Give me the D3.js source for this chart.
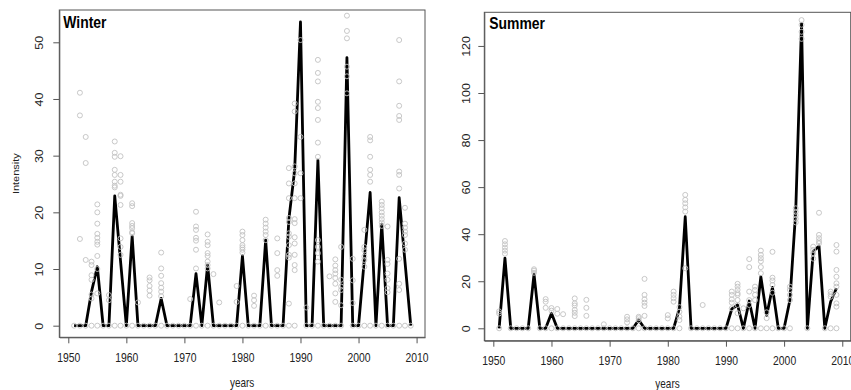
<!DOCTYPE html>
<html>
<head>
<meta charset="utf-8">
<script src="https://cdn.jsdelivr.net/npm/d3@7/dist/d3.min.js"></script>
<style>
    body { margin: 0; background: #fff; }
    svg { display: block; font-family: "Liberation Sans", Arial, Helvetica, sans-serif; }
</style>
</head>
<body>
<div id="chart"></div>
<script>
var years = [1951, 1952, 1953, 1954, 1955, 1956, 1957, 1958, 1959, 1960,
    1961, 1962, 1963, 1964, 1965, 1966, 1967, 1968, 1969, 1970,
    1971, 1972, 1973, 1974, 1975, 1976, 1977, 1978, 1979, 1980,
    1981, 1982, 1983, 1984, 1985, 1986, 1987, 1988, 1989, 1990,
    1991, 1992, 1993, 1994, 1995, 1996, 1997, 1998, 1999, 2000,
    2001, 2002, 2003, 2004, 2005, 2006, 2007, 2008, 2009];

var xTicks = [1950, 1960, 1970, 1980, 1990, 2000, 2010];
var winterTicks = [0, 10, 20, 30, 40, 50];
var summerTicks = [0, 20, 40, 60, 80, 100, 120];

// median line, one value per year
var winterLine = [0, 0, 0, 6, 10.4, 0, 0, 22.9, 11.4, 0,
    15.8, 0, 0, 0, 0, 4.8, 0, 0, 0, 0,
    0, 9.2, 0, 10.7, 0, 0, 0, 0, 0, 12.3,
    0, 0, 0, 15.1, 0, 0, 0, 18.8, 27.5, 53.6,
    0, 0, 29.2, 0, 0, 0, 0, 47.3, 0, 0,
    11.7, 23.5, 0, 17.9, 0, 0, 22.6, 11.3, 0];

var summerLine = [0, 29.8, 0, 0, 0, 0, 23, 0, 0, 6.4,
    0, 0, 0, 0, 0, 0, 0, 0, 0, 0,
    0, 0, 0, 0, 3.5, 0, 0, 0, 0, 0,
    0, 8.5, 47.4, 0, 0, 0, 0, 0, 0, 0,
    8.2, 9.9, 0, 11.6, 0, 21.9, 5.5, 17.4, 0, 0,
    12, 50, 129.6, 0, 32.6, 35, 0, 11.3, 17];

// the grey circles (non-zero members), per year
var winterSpread = [
    [1952, [41.1, 37.1, 15.3]],
    [1953, [33.3, 28.7, 11.6]],
    [1954, [11.3, 10.7, 8.9, 8.1, 5.5, 4.8]],
    [1955, [21.4, 20, 18, 16.2, 15.5, 14.8, 14.3, 12.3, 10, 5.7]],
    [1957, [5.4, 4.5]],
    [1958, [32.5, 30.5, 29.8, 27.5, 26.6, 25.4, 24.7, 24.4]],
    [1959, [29.9, 26.6, 25.4, 23.1, 22.9, 21.3, 15.4, 13.9, 12.5]],
    [1961, [21.6, 21.1, 18.1, 17.6, 17.2, 16.5, 16.3]],
    [1962, [4.1]],
    [1964, [8.5, 8, 7, 6.2, 5.3]],
    [1966, [12.9, 10.1, 8.8, 7.5, 6.7, 6, 5.2]],
    [1971, [4.7]],
    [1972, [20.1, 17.5, 16.9, 15.5, 15, 13.4, 10.1]],
    [1974, [16.1, 14.8, 14.2, 12.8, 12.3, 11.3, 10.7, 10.1]],
    [1975, [9.1]],
    [1976, [4.1]],
    [1979, [7, 4.2]],
    [1980, [16.6, 16, 15.1, 14.2, 13.8, 13.4, 12.9]],
    [1982, [5.3, 4.5, 3.5]],
    [1984, [18.7, 18, 17.3, 16.6, 16, 15.1]],
    [1986, [15.4, 12.8, 9.8, 8.8]],
    [1988, [27.8, 25.1, 22.5, 19, 18.3, 16.3, 15.7, 14.2, 12.5, 12, 3.9]],
    [1989, [39.2, 37.8, 28.1, 26.9, 25.1, 22.5, 18.8, 18.1, 15.6, 14.5, 12.5, 10.7, 9.8]],
    [1990, [50.4, 33.3, 26.9, 22.5]],
    [1991, [3.2]],
    [1993, [46.9, 44.6, 43.1, 39.5, 38.4, 36.3, 32.3, 29.8, 15.1, 13.9, 12.8, 11.3]],
    [1995, [8.7]],
    [1996, [11.7, 10.6, 9.8, 9.2, 8.4, 7.4, 5.7, 4.2]],
    [1997, [13.9, 8.1, 6.9, 6.3, 3.6]],
    [1998, [54.7, 52, 50.7, 45.7, 44, 41]],
    [1999, [11.8, 8, 4]],
    [2001, [16.9, 13.9, 13.3, 12.2, 11.6, 10.4]],
    [2002, [33.3, 32.7, 29.8, 27.5, 26.6, 25.4]],
    [2004, [21.9, 21.3, 20.7, 20, 19.4, 18.8, 18.2, 17.6]],
    [2005, [17.5, 11.6, 10.9, 9.2, 8.1, 6.6, 5.9]],
    [2007, [50.4, 43.1, 38.8, 37, 36.3, 27.2, 26.6, 24.2, 11.8, 7.4, 6.3]],
    [2008, [20.8, 18, 17.3, 16.6, 16, 14.5, 13.4]]
];

var summerSpread = [
    [1951, [7.2, 6.3]],
    [1952, [37.1, 35.7, 34.3, 33, 31.7]],
    [1957, [25.1, 24.5, 23.6]],
    [1959, [12.4, 11.3, 8.7]],
    [1960, [8.6, 7.5]],
    [1961, [8.2, 6.2]],
    [1962, [6]],
    [1964, [12.7, 10.6, 9.7, 7.8, 6.6, 5.2]],
    [1966, [12.1, 8.7, 5.3]],
    [1969, [1.7]],
    [1973, [4.9, 3.8, 2.5]],
    [1975, [4.9, 4.3, 3.4]],
    [1976, [21, 14.2, 12.3, 10.9, 9.5, 5.3]],
    [1980, [5.6, 4.2]],
    [1981, [15.6, 14.2, 12.8, 11.3]],
    [1982, [9, 7, 5, 3.5]],
    [1983, [56.7, 54.6, 53.1, 51.4, 49.6, 25.5]],
    [1986, [9.9]],
    [1991, [15.6, 14.2, 12.3, 10.9, 8.5]],
    [1992, [18.9, 17.7, 16.3, 14.9, 14.2, 12, 9.9, 6.4]],
    [1993, [8.5]],
    [1994, [29.4, 26, 15.6, 12, 9.9]],
    [1995, [17.7, 16.3, 14.2, 12]],
    [1996, [33, 31.2, 29.8, 28.5, 26, 23.4]],
    [1997, [6.8, 4.3]],
    [1998, [32.5, 21.5, 20.3, 18.4, 15.1]],
    [2001, [17.7, 16.3, 14.2, 12]],
    [2002, [51, 49.5, 48, 46.5, 45]],
    [2003, [131, 129, 126, 123]],
    [2005, [34.7, 33.3, 31.9, 29.6]],
    [2006, [49.1, 39.7, 38.3, 37, 36.1]],
    [2008, [15.6, 14.5, 13.4]],
    [2009, [35.4, 32.6, 24.8, 21.9, 19.1, 17.7, 14.2, 10.6, 9.2]]
];

// years with no member at zero
var winterNoZero = [1990, 1998];
var summerNoZero = [1952, 1957, 1983, 2002, 2003, 2005, 2006];

var width = 851, height = 390;
var squeeze = 0.83; // the original picture is a bit narrower than tall

var svg = d3.select("#chart").append("svg")
    .attr("width", width)
    .attr("height", height);

function drawPanel(cfg) {
    var x = d3.scaleLinear().domain([1948.45, 2011.45]).range([cfg.left, cfg.right]);
    var y = d3.scaleLinear().domain(cfg.yDomain).range([cfg.bottom, cfg.top]);
    var g = svg.append("g");

    // box
    g.append("rect")
        .attr("x", cfg.left)
        .attr("y", cfg.top)
        .attr("width", cfg.right - cfg.left)
        .attr("height", cfg.bottom - cfg.top)
        .attr("fill", "none")
        .attr("stroke", "#555")
        .attr("stroke-width", 1);

    // x axis
    var xAxis = g.append("g")
        .attr("transform", "translate(0," + cfg.bottom + ")")
        .call(d3.axisBottom(x).tickValues(xTicks).tickFormat(d3.format("d")).tickSize(6).tickSizeOuter(0));
    xAxis.select(".domain").attr("stroke", "#555");
    xAxis.selectAll(".tick line").attr("stroke", "#555");
    xAxis.selectAll(".tick text")
        .attr("y", cfg.xLabelY - cfg.bottom)
        .attr("dy", 0)
        .attr("transform", "scale(" + squeeze + ",1)")
        .attr("font-size", 12.5)
        .attr("font-family", "Liberation Sans, Arial, sans-serif")
        .attr("fill", "#222");

    // y axis, labels parallel to the axis
    var yAxis = g.append("g")
        .attr("transform", "translate(" + cfg.left + ",0)")
        .call(d3.axisLeft(y).tickValues(cfg.yTicks).tickSize(6).tickSizeOuter(0));
    yAxis.select(".domain").attr("stroke", "#555");
    yAxis.selectAll(".tick line").attr("stroke", "#555");
    yAxis.selectAll(".tick text")
        .attr("x", 0)
        .attr("dy", 0)
        .attr("text-anchor", "middle")
        .attr("transform", "translate(" + (cfg.yLabelX - cfg.left) + ",0) rotate(-90) scale(1," + squeeze + ")")
        .attr("font-size", 12.5)
        .attr("font-family", "Liberation Sans, Arial, sans-serif")
        .attr("fill", "#222");

    // median line
    var line = d3.line()
        .x(function (d, i) { return x(years[i]); })
        .y(function (d) { return y(d); });

    g.append("path")
        .datum(cfg.line)
        .attr("d", line)
        .attr("fill", "none")
        .attr("stroke", "#000")
        .attr("stroke-width", 2.8)
        .attr("stroke-linejoin", "round");

    // grey members on top
    var pts = [];
    years.forEach(function (yr) {
        if (cfg.noZero.indexOf(yr) < 0) pts.push({ year: yr, value: 0 });
    });
    cfg.spread.forEach(function (row) {
        row[1].forEach(function (v) { pts.push({ year: row[0], value: v }); });
    });

    g.append("g")
        .selectAll("circle")
        .data(pts)
        .enter().append("circle")
        .attr("cx", function (d) { return x(d.year); })
        .attr("cy", function (d) { return y(d.value); })
        .attr("r", 2.5)
        .attr("fill", "none")
        .attr("stroke", "#c2c2c2")
        .attr("stroke-width", 0.9);

    // title inside the box
    g.append("text")
        .attr("transform", "translate(" + cfg.titleX + "," + cfg.titleY + ") scale(" + squeeze + ",1)")
        .attr("font-size", 16.8)
        .attr("font-weight", "bold")
        .attr("fill", "#000")
        .text(cfg.title);

    // x axis title
    g.append("text")
        .attr("transform", "translate(" + ((cfg.left + cfg.right) / 2) + "," + cfg.xTitleY + ") scale(" + squeeze + ",1)")
        .attr("text-anchor", "middle")
        .attr("font-size", 12)
        .attr("fill", "#222")
        .text("years");

    if (cfg.yTitle) {
        g.append("text")
            .attr("transform", "translate(" + cfg.yTitleX + "," + ((cfg.top + cfg.bottom) / 2) + ") rotate(-90) scale(1," + squeeze + ")")
            .attr("text-anchor", "middle")
            .attr("font-size", 11)
            .attr("fill", "#222")
            .text(cfg.yTitle);
    }
}

drawPanel({
    left: 59.3, right: 425, top: 10, bottom: 337.3,
    yDomain: [-2.05, 55.7], yTicks: winterTicks,
    line: winterLine, spread: winterSpread, noZero: winterNoZero,
    title: "Winter", titleX: 63.3, titleY: 28.3,
    xLabelY: 361.7, yLabelX: 43, xTitleY: 386.5,
    yTitle: "Intensity", yTitleX: 19
});

drawPanel({
    left: 484.3, right: 850.7, top: 12.3, bottom: 340.7,
    yDomain: [-5.27, 134.3], yTicks: summerTicks,
    line: summerLine, spread: summerSpread, noZero: summerNoZero,
    title: "Summer", titleX: 489.3, titleY: 29.3,
    xLabelY: 365, yLabelX: 470, xTitleY: 388
});
</script>
</body>
</html>
